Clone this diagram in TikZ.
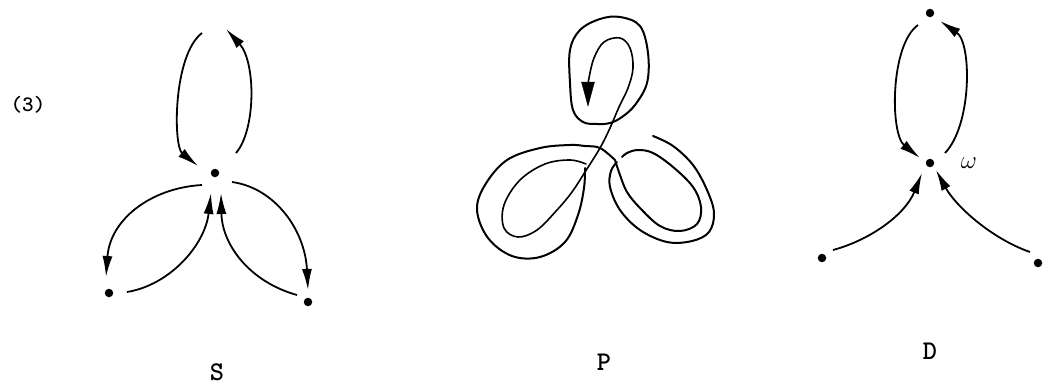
\documentclass[tikz,border=0pt]{standalone}
\usetikzlibrary{arrows.meta}
\begin{document}
\begin{tikzpicture}[x=1pt,y=-1pt,
  dot/.style={circle,fill=black,inner sep=0pt,minimum size=8.5pt},
  arr/.style={line width=1.8pt,-{Latex[length=21pt,width=10pt]}},
  curve/.style={line width=2pt,line join=round,line cap=round},
  lab/.style={font=\ttfamily\bfseries\fontsize{27}{28}\selectfont}]
\useasboundingbox (0,0) rectangle (1050,391);

% label
\node[font=\ttfamily\bfseries\fontsize{22}{24}\selectfont] (num) at (28,105) {(3)};

% ---------- S ----------
\node[dot] (sc) at (215,173) {};
\node[dot] (sl) at (109,293) {};
\node[dot] (sr) at (308,302) {};
\coordinate (st1) at (202,33);
\coordinate (st2) at (226,29);
\coordinate (sa) at (198,166);
\coordinate (sb) at (236,153);
\coordinate (sc1) at (202,185);
\coordinate (sl1) at (106,277);
\coordinate (sl2) at (127,292);
\coordinate (sc2) at (211,193);
\coordinate (sc3) at (232,182);
\coordinate (sr1) at (308,290);
\coordinate (sr2) at (297,295);
\coordinate (sc4) at (221,193);
\draw[arr] (st1) .. controls (173,55) and (173,146) .. (sa);
\draw[arr] (sb) .. controls (256,130) and (256,62) .. (st2);
\draw[arr] (sc1) .. controls (150,188) and (110,220) .. (sl1);
\draw[arr] (sl2) .. controls (170,285) and (205,245) .. (sc2);
\draw[arr] (sc3) .. controls (275,188) and (305,230) .. (sr1);
\draw[arr] (sr2) .. controls (250,282) and (222,245) .. (sc4);
\node[lab] (S) at (217,372) {S};

% ---------- P ----------
\draw[curve] plot[smooth cycle,tension=0.6] coordinates {(610,123) (597,124) (583,122) (573,110) (570,83) (570,50) (580,30) (600,19) (620,17) (640,26) (648,53) (647,83) (635,105) (622,117)};
\draw[curve,line width=1.6pt] plot[smooth,tension=0.6] coordinates {(586,164) (570,160) (545,164) (520,180) (504,205) (504,228) (518,237) (537,230) (557,210) (572,192) (585,172) (600,148) (610,128) (619,107) (628,88) (633,68) (630,48) (620,38) (604,42) (594,58) (589,78) (588,86)};
\draw[fill=black] (581.5,82) -- (594.5,82) -- (588,106) -- cycle;
\draw[curve] plot[smooth,tension=0.6] coordinates {(615,160) (600,148) (585,146) (570,145) (540,148) (507,160) (485,185) (477,210) (488,238) (512,256) (540,257) (565,242) (578,215) (584,188) (585,168)};
\draw[curve] plot[smooth,tension=0.6] coordinates {(615,160) (620,175) (627,192) (640,208) (660,226) (680,231) (697,224) (701,207) (693,187) (673,167) (653,153) (638,150) (627,153) (622,157)};
\draw[curve] plot[smooth,tension=0.6] coordinates {(653,136) (673,146) (693,165) (707,190) (714,213) (709,232) (692,241) (667,242) (640,230) (620,210) (610,187) (611,171) (617,162)};
\node[lab] (P) at (604,362) {P};

% ---------- D ----------
\node[dot] (dt) at (930,13) {};
\node[dot] (dc) at (930,163) {};
\node[dot] (dl) at (822,258) {};
\node[dot] (dr) at (1038,263) {};
\coordinate (dt1) at (918,25);
\coordinate (dt2) at (940,21);
\coordinate (da) at (920,158);
\coordinate (db) at (945,153);
\coordinate (dl1) at (833,250);
\coordinate (dc1) at (922,173);
\coordinate (dr1) at (1030,252);
\coordinate (dc2) at (936,170);
\draw[arr] (dt1) .. controls (890,45) and (890,134) .. (da);
\draw[arr] (db) .. controls (972,125) and (972,43) .. (dt2);
\draw[arr] (dl1) .. controls (870,240) and (905,215) .. (dc1);
\draw[arr] (dr1) .. controls (990,238) and (955,205) .. (dc2);
\node[font=\fontsize{28}{30}\selectfont] (w) at (969,163) {$\omega$};
\node[lab] (D) at (930,351) {D};
\end{tikzpicture}
\end{document}
